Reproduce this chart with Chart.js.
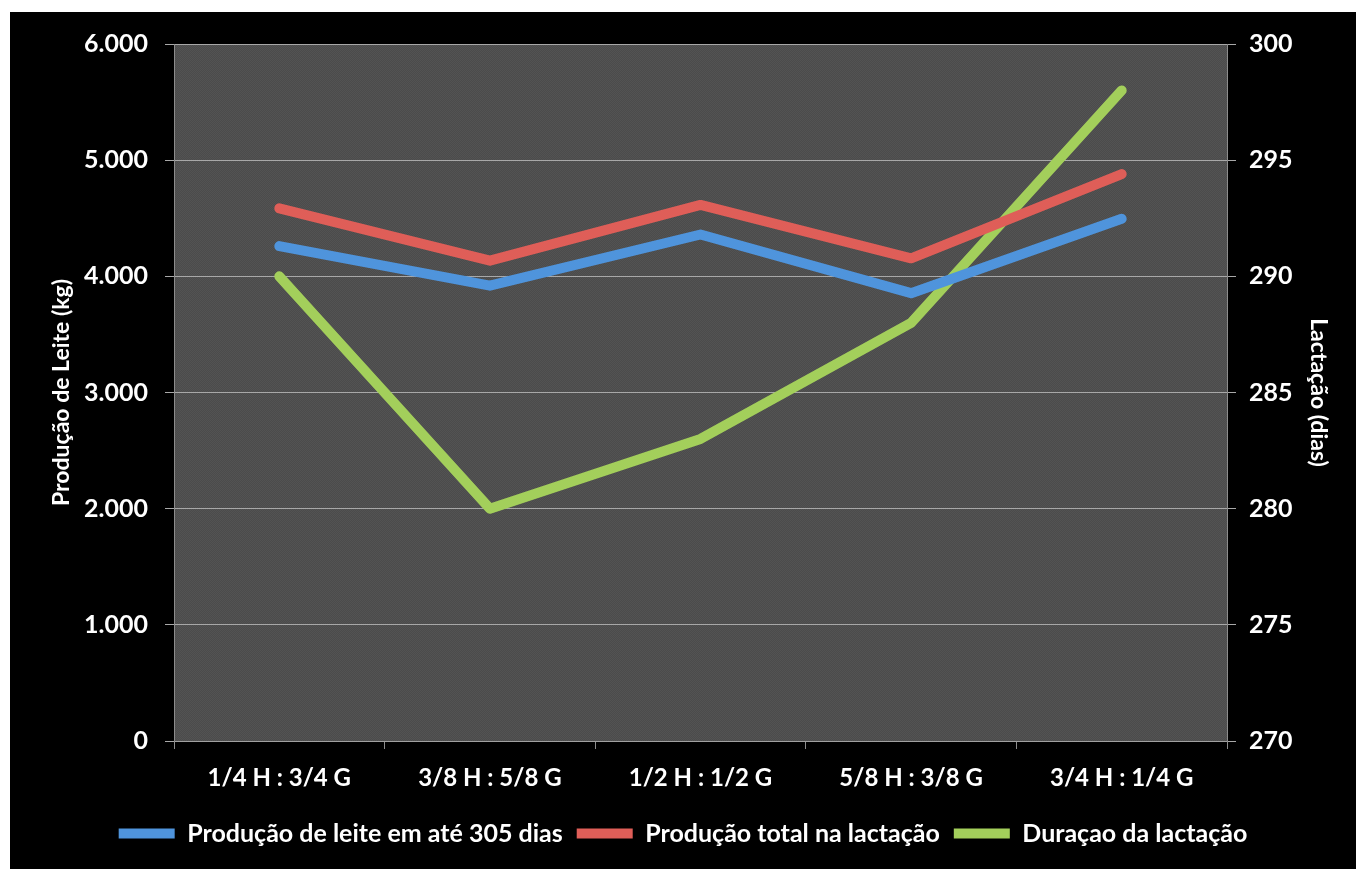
<!DOCTYPE html>
<html>
<head>
<meta charset="utf-8">
<script src="https://cdn.jsdelivr.net/npm/chart.js@4"></script>
<style>
    html, body { margin: 0; padding: 0; background: #fff; }
    #wrap { position: absolute; left: 10px; top: 12px; width: 1346px; height: 857px; background: #000; }
</style>
</head>
<body>
<div id="wrap"><canvas id="chart"></canvas></div>
<script>
// Chart data
const categories = ["1/4 H : 3/4 G", "3/8 H : 5/8 G", "1/2 H : 1/2 G", "5/8 H : 3/8 G", "3/4 H : 1/4 G"];
const producao_305 = [4260, 3920, 4360, 3855, 4495];
const producao_total = [4585, 4135, 4615, 4155, 4880];
const duracao_lactacao = [290, 280, 283, 288, 298];

const left_ticks = { min: 0, max: 6000, step: 1000 };
const right_ticks = { min: 270, max: 300, step: 5 };

// format thousands with a dot, as in the original (6.000)
function fmt_thousands(v) {
    return String(v).replace(/\B(?=(\d{3})+(?!\d))/g, ".");
}

// dotted dark grey background of the plot area
function make_pattern(ctx) {
    const c = document.createElement("canvas");
    c.width = 2;
    c.height = 2;
    const p = c.getContext("2d");
    p.fillStyle = "#4b4b4b";
    p.fillRect(0, 0, 2, 2);
    p.fillStyle = "#535353";
    p.fillRect(0, 0, 1, 1);
    p.fillRect(1, 1, 1, 1);
    return ctx.createPattern(c, "repeat");
}

const plot_background = {
    id: "plot_background",
    beforeDraw(chart) {
        const { ctx, chartArea } = chart;
        ctx.save();
        ctx.fillStyle = make_pattern(ctx);
        ctx.fillRect(chartArea.left, chartArea.top, chartArea.right - chartArea.left, chartArea.bottom - chartArea.top);
        ctx.restore();
    }
};

const tick_font = { family: "Lato", size: 25, weight: "bold" };
const title_font = { family: "Lato", size: 23, weight: "bold" };

const config = {
    type: "line",
    data: {
        labels: categories,
        datasets: [{
            label: "Produção de leite em até 305 dias",
            data: producao_305,
            borderColor: "#4f94dc",
            backgroundColor: "#4f94dc",
            borderWidth: 10,
            borderCapStyle: "round",
            borderJoinStyle: "round",
            pointRadius: 0,
            yAxisID: "y"
        }, {
            label: "Produção total na lactação",
            data: producao_total,
            borderColor: "#df5e58",
            backgroundColor: "#df5e58",
            borderWidth: 10,
            borderCapStyle: "round",
            borderJoinStyle: "round",
            pointRadius: 0,
            yAxisID: "y"
        }, {
            label: "Duraçao da lactação",
            data: duracao_lactacao,
            borderColor: "#a3cf5b",
            backgroundColor: "#a3cf5b",
            borderWidth: 10,
            borderCapStyle: "round",
            borderJoinStyle: "round",
            pointRadius: 0,
            yAxisID: "y1"
        }]
    },
    options: {
        responsive: true,
        maintainAspectRatio: false,
        animation: false,
        layout: {
            padding: { top: 31, left: 0, right: 0, bottom: 13 }
        },
        scales: {
            x: {
                offset: true,
                grid: {
                    offset: true,
                    drawOnChartArea: false,
                    drawTicks: true,
                    tickLength: 8,
                    tickColor: "#8c8c8c"
                },
                border: { color: "#a0a0a0" },
                ticks: {
                    color: "#ffffff",
                    font: { family: "Lato", size: 24, weight: "bold" },
                    padding: 15,
                    maxRotation: 0
                },
                afterFit: (scale) => { scale.height = 66; }
            },
            y: {
                position: "left",
                min: left_ticks.min,
                max: left_ticks.max,
                grid: {
                    color: "#a8a8a8",
                    tickColor: "#a8a8a8",
                    tickLength: 9
                },
                border: { color: "#8c8c8c" },
                ticks: {
                    stepSize: left_ticks.step,
                    color: "#ffffff",
                    font: tick_font,
                    padding: 17,
                    callback: (v) => fmt_thousands(v)
                },
                title: {
                    display: true,
                    text: "Produção de Leite (kg)",
                    color: "#ffffff",
                    font: title_font,
                    padding: { top: 38, bottom: 0 }
                },
                afterFit: (scale) => { scale.width = 164; }
            },
            y1: {
                position: "right",
                min: right_ticks.min,
                max: right_ticks.max,
                grid: {
                    drawOnChartArea: false,
                    tickColor: "#a8a8a8",
                    tickLength: 9
                },
                border: { color: "#8c8c8c" },
                ticks: {
                    stepSize: right_ticks.step,
                    color: "#ffffff",
                    font: tick_font,
                    padding: 13
                },
                title: {
                    display: true,
                    text: "Lactação (dias)",
                    color: "#ffffff",
                    font: title_font,
                    padding: { top: 24, bottom: 0 }
                },
                afterFit: (scale) => { scale.width = 129; }
            }
        },
        plugins: {
            legend: {
                position: "bottom",
                labels: {
                    color: "#ffffff",
                    font: { family: "Lato", size: 25, weight: "bold" },
                    usePointStyle: true,
                    pointStyle: "line",
                    pointStyleWidth: 56,
                    boxHeight: 10,
                    padding: 14
                }
            },
            tooltip: { enabled: false }
        }
    },
    plugins: [plot_background]
};

new Chart(document.getElementById("chart").getContext("2d"), config);
</script>
</body>
</html>
